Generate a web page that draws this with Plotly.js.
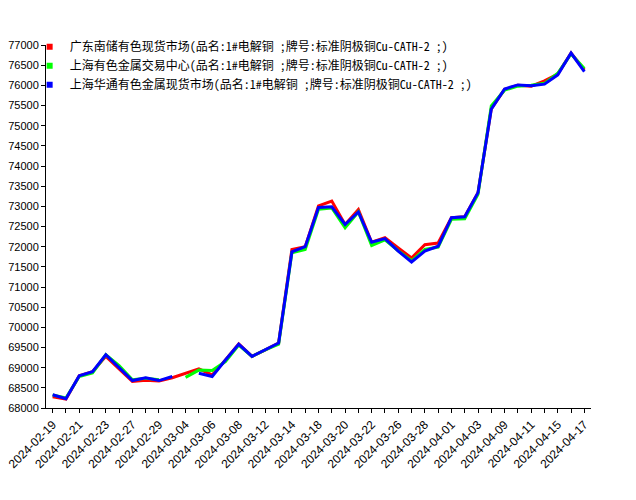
<!DOCTYPE html>
<html>
<head>
<meta charset="utf-8">
<script src="https://cdn.plot.ly/plotly-3.0.1.min.js"></script>
<style>
  body { margin: 0; background: #fff; }
  #chart { width: 636px; height: 500px; }
</style>
</head>
<body>
<div id="chart"></div>
<script>
// trading days shown on the x axis
var dates = [
    '2024-02-19', '2024-02-20', '2024-02-21', '2024-02-22', '2024-02-23',
    '2024-02-26', '2024-02-27', '2024-02-28', '2024-02-29', '2024-03-01',
    '2024-03-04', '2024-03-05', '2024-03-06', '2024-03-07', '2024-03-08',
    '2024-03-11', '2024-03-12', '2024-03-13', '2024-03-14', '2024-03-15',
    '2024-03-18', '2024-03-19', '2024-03-20', '2024-03-21', '2024-03-22',
    '2024-03-25', '2024-03-26', '2024-03-27', '2024-03-28', '2024-03-29',
    '2024-04-01', '2024-04-02', '2024-04-03', '2024-04-08', '2024-04-09',
    '2024-04-10', '2024-04-11', '2024-04-12', '2024-04-15', '2024-04-16',
    '2024-04-17'
];

var names = [
    '广东南储有色现货市场(品名:1#电解铜 ;牌号:标准阴极铜Cu-CATH-2 ;)',
    '上海有色金属交易中心(品名:1#电解铜 ;牌号:标准阴极铜Cu-CATH-2 ;)',
    '上海华通有色金属现货市场(品名:1#电解铜 ;牌号:标准阴极铜Cu-CATH-2 ;)'
];

var colors = ['#ff0000', '#00ff00', '#0000ff'];

// prices (null = no quote that day)
var guangdong = [
    68280, 68220, 68800, 68900, 69280, 68980, 68660, 68690, 68670, 68750,
    68860, 68970, 68820, 69190, 69590, 69280, 69440, 69610, 71930, 72000,
    73010, 73130, 72550, 72920, 72110, 72220, 71970, 71720, 72050, 72090,
    72720, 72740, 73340, 75420, 75900, 76000, 75980, 76110, 76280, 76800,
    76380
];

var shanghai = [
    68320, 68250, 68780, 68870, 69320, 69050, 68700, 68740, 68700, null,
    68760, 68940, 68930, 69150, 69560, 69280, 69440, 69580, 71850, 71930,
    72930, 72960, 72470, 72860, 72030, 72170, 71900, 71650, 71930, 71990,
    72680, 72690, 73300, 75490, 75880, 75980, 76000, 76050, 76300, 76780,
    76420
];

var huatong = [
    68330, 68230, 68800, 68900, 69320, 69010, 68680, 68750, 68680, 68780,
    null, 68860, 68780, 69190, 69580, 69280, 69440, 69610, 71870, 72000,
    72970, 72990, 72550, 72860, 72110, 72200, 71890, 71620, 71890, 72010,
    72720, 72740, 73340, 75410, 75910, 76010, 75990, 76030, 76260, 76800,
    76340
];

// every second date gets a label, every date gets a tick
var tick_text = [];
for (var i = 0; i < dates.length; i++) {
    tick_text.push(i % 2 === 0 ? dates[i] : '');
}

function make_traces() {
    var series = [guangdong, shanghai, huatong];
    var data = [];
    for (var k = 0; k < series.length; k++) {
        data.push({
            x: dates,
            y: series[k],
            type: 'scatter',
            mode: 'lines',
            name: names[k],
            legendgroup: 'g' + k,
            showlegend: false,
            connectgaps: false,
            line: { color: colors[k], width: 3 },
            hoverinfo: 'x+y'
        });
    }
    // square legend keys
    for (var k = 0; k < series.length; k++) {
        data.push({
            x: [null],
            y: [null],
            type: 'scatter',
            mode: 'markers',
            name: names[k],
            legendgroup: 'g' + k,
            marker: { color: colors[k], symbol: 'square', size: 6 }
        });
    }
    return data;
}

var layout = {
    width: 636,
    height: 500,
    margin: { l: 46, r: 45, t: 45, b: 92 },
    paper_bgcolor: '#ffffff',
    plot_bgcolor: '#ffffff',
    font: { family: '"Liberation Sans", Arial, sans-serif', color: '#000000', size: 11 },
    showlegend: true,
    legend: {
        x: -0.03,
        y: 1.035,
        xanchor: 'left',
        yanchor: 'top',
        bgcolor: 'rgba(0,0,0,0)',
        tracegroupgap: 0,
        itemwidth: 30,
        font: { family: '"Noto Sans Mono CJK SC", "Noto Sans CJK SC", monospace', size: 12, color: '#000000' }
    },
    xaxis: {
        type: 'category',
        range: [-0.5, dates.length - 0.5],
        tickmode: 'array',
        tickvals: dates,
        ticktext: tick_text,
        tickangle: -45,
        ticks: 'outside',
        ticklen: 4,
        tickcolor: '#000000',
        showgrid: false,
        zeroline: false,
        showline: true,
        linecolor: '#000000',
        linewidth: 1,
        tickfont: { size: 12 }
    },
    yaxis: {
        range: [68000, 77000],
        dtick: 500,
        tick0: 68000,
        tickformat: 'd',
        ticks: 'outside',
        ticklen: 4,
        tickcolor: '#000000',
        showgrid: false,
        zeroline: false,
        showline: true,
        linecolor: '#000000',
        linewidth: 1,
        tickfont: { size: 11 }
    }
};

Plotly.newPlot('chart', make_traces(), layout, { displayModeBar: false, staticPlot: true });
</script>
</body>
</html>
